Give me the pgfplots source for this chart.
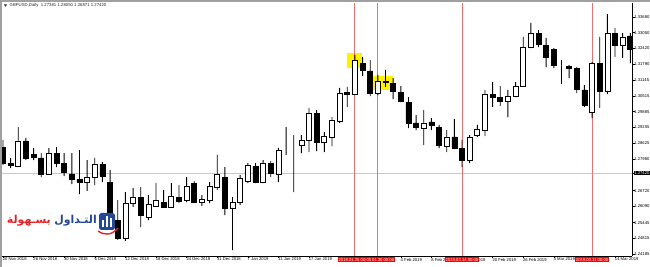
\documentclass[border=0pt]{standalone}
\usepackage{pgfplots}
\pgfplotsset{compat=1.18}
\usepackage{pgfplotstable}
\usepackage{fontspec}
\setmainfont{Liberation Sans}
\newfontfamily\arabicfont[Script=Arabic]{DejaVu Sans}
\TeXXeTstate=1
\definecolor{vline}{RGB}{240,110,110}
\definecolor{logoblue}{RGB}{36,72,150}
\definecolor{logored}{RGB}{226,35,40}
\definecolor{priceline}{RGB}{200,200,200}
\definecolor{framegray}{RGB}{160,160,160}

\pgfplotstableread{
i o h l c
0 1.28472 1.28753 1.27751 1.27831
1 1.27831 1.28032 1.27631 1.27751
2 1.27711 1.29273 1.27671 1.28713
3 1.28713 1.28833 1.27951 1.28032
4 1.28192 1.28432 1.27951 1.28072
5 1.28032 1.28232 1.27270 1.27391
6 1.27391 1.28432 1.27351 1.28232
7 1.28232 1.28472 1.27671 1.27831
8 1.27831 1.28232 1.27310 1.27471
9 1.27391 1.28232 1.26990 1.27190
10 1.27190 1.28352 1.26589 1.27070
11 1.27070 1.27951 1.26710 1.27270
12 1.27270 1.28032 1.26950 1.27791
13 1.27791 1.27871 1.27070 1.27310
14 1.27070 1.27551 1.25548 1.25668
15 1.25548 1.26349 1.24747 1.24827
16 1.24827 1.26669 1.24707 1.26229
17 1.26229 1.26830 1.26069 1.26469
18 1.26469 1.26870 1.25267 1.25748
19 1.25668 1.26549 1.25548 1.26189
20 1.26109 1.27030 1.26069 1.26349
21 1.26269 1.26750 1.26029 1.26069
22 1.26069 1.27030 1.26029 1.26509
23 1.26469 1.26950 1.26229 1.26309
24 1.26349 1.27270 1.26269 1.26910
25 1.27030 1.27110 1.26229 1.26269
26 1.26269 1.26549 1.26109 1.26389
27 1.26349 1.27070 1.26229 1.26910
28 1.26870 1.28152 1.26750 1.27391
29 1.27270 1.27671 1.25748 1.26029
30 1.26029 1.26469 1.24346 1.26269
31 1.26269 1.27351 1.26149 1.27230
32 1.27110 1.27831 1.27030 1.27751
33 1.27711 1.27831 1.27030 1.27070
34 1.27070 1.27951 1.27030 1.27831
35 1.27831 1.27911 1.27270 1.27431
36 1.27391 1.28432 1.27070 1.28352
37 1.28552 1.29273 1.28152 1.28552
38 1.28592 1.28953 1.26669 1.28592
39 1.28552 1.28953 1.28232 1.28753
40 1.28753 1.30035 1.28272 1.29834
41 1.29834 1.29954 1.28312 1.28672
42 1.28672 1.29073 1.28272 1.28913
43 1.28873 1.29674 1.28512 1.29554
44 1.29514 1.30836 1.29434 1.30635
45 1.30655 1.30876 1.30075 1.30595
46 1.30595 1.32158 1.30555 1.31957
47 1.31837 1.32078 1.31316 1.31557
48 1.31517 1.31957 1.30515 1.30635
49 1.30635 1.31357 1.30555 1.31116
50 1.31116 1.31557 1.30876 1.31076
51 1.31036 1.31236 1.30395 1.30716
52 1.30675 1.30916 1.30275 1.30315
53 1.30275 1.30475 1.29233 1.29434
54 1.29434 1.29754 1.29153 1.29273
55 1.29233 1.29954 1.28552 1.29434
56 1.29474 1.29634 1.29153 1.29354
57 1.29273 1.29354 1.28432 1.28552
58 1.28512 1.29153 1.28272 1.28873
59 1.28873 1.29594 1.28392 1.28432
60 1.28432 1.28753 1.27671 1.27951
61 1.27951 1.28953 1.27831 1.28873
62 1.28953 1.29354 1.28873 1.29193
63 1.29153 1.30756 1.28913 1.30595
64 1.30595 1.31076 1.30075 1.30475
65 1.30475 1.30916 1.30115 1.30315
66 1.30315 1.30756 1.29674 1.30515
67 1.30515 1.31076 1.30475 1.30916
68 1.30916 1.32879 1.30876 1.32478
69 1.32478 1.33440 1.32438 1.33039
70 1.33039 1.33159 1.32478 1.32598
71 1.32558 1.32839 1.31677 1.32078
72 1.32398 1.32438 1.31637 1.31757
73 1.31737 1.31957 1.30996 1.31737
74 1.31717 1.31757 1.31236 1.31637
75 1.31637 1.31677 1.30635 1.30796
76 1.30756 1.30956 1.30075 1.30155
77 1.29874 1.31877 1.29634 1.31837
78 1.31837 1.32879 1.30035 1.30716
79 1.30716 1.33800 1.30595 1.33039
80 1.33039 1.33239 1.32078 1.32558
81 1.32558 1.33039 1.32038 1.32879
82 1.32919 1.33039 1.31837 1.32398
}\candles

\pgfplotsset{
  commonaxis/.style={
    at={(2bp,11bp)}, anchor=south west,
    width=630bp, height=253bp, scale only axis,
    xmin=-0.13, xmax=82.22, ymin=1.24106, ymax=1.34241,
  }
}

\begin{document}
\begin{tikzpicture}
\useasboundingbox (0,0) rectangle (650bp,267bp);
% chart window frame
\fill[framegray] (0,0) rectangle (1.6bp,267bp);
\fill[framegray] (0,265.4bp) rectangle (650bp,267bp);

% background layer: highlights, vertical lines, price line
\begin{axis}[commonaxis, hide axis]
  \addplot[fill=yellow, draw=none] coordinates {(44.97,1.31637) (46.93,1.31637) (46.93,1.32238) (44.97,1.32238)} -- cycle;
  \addplot[fill=yellow, draw=none] coordinates {(48.37,1.30756) (50.98,1.30756) (50.98,1.31316) (48.37,1.31316)} -- cycle;
  \addplot[priceline, line width=0.6bp] coordinates {(-0.13,1.27420) (82.22,1.27420)};
  \addplot[vline, line width=1bp] coordinates {(46,1.24106) (46,1.34241)};
  \addplot[vline, line width=1bp] coordinates {(49,1.24106) (49,1.34241)};
  \addplot[vline, line width=1bp] coordinates {(60,1.24106) (60,1.34241)};
  \addplot[vline, line width=1bp] coordinates {(77,1.24106) (77,1.34241)};
\end{axis}

% candles
\begin{axis}[commonaxis,
  ybar stacked, bar width=5bp,
  axis x line=bottom, axis y line=right,
  axis line style={-, black, line width=0.6bp},
  tick align=outside, major tick length=2.5bp,
  tick style={black, line width=0.5bp},
  clip mode=individual,
  xtick={0,4,...,80},
  xticklabels={20 Nov 2018,26 Nov 2018,30 Nov 2018,6 Dec 2018,12 Dec 2018,18 Dec 2018,24 Dec 2018,31 Dec 2018,7 Jan 2019,11 Jan 2019,17 Jan 2019,,,4 Feb 2019,8 Feb 2019,14 Feb 2019,20 Feb 2019,26 Feb 2019,4 Mar 2019,,14 Mar 2019},
  xticklabel style={anchor=north west, xshift=-0.8bp, yshift=1.2bp, inner sep=0.5bp, font=\fontsize{4.2}{5}\selectfont},
  ytick={1.33680,1.33050,1.32420,1.31790,1.31145,1.30515,1.29885,1.29255,1.28625,1.27980,1.26720,1.26090,1.25445,1.24815,1.24185},
  scaled y ticks=false,
  yticklabel style={anchor=west, xshift=-1bp, inner sep=0.6bp, font=\fontsize{4.2}{5}\selectfont,
    /pgf/number format/fixed, /pgf/number format/fixed zerofill, /pgf/number format/precision=5, /pgf/number format/assume math mode=true},
  extra y ticks={1.27420},
  extra y tick labels={1.27420},
  extra y tick style={yticklabel style={fill=black, text=white}},
]
  \addplot[draw=none, fill=none] table[x=i, y=l] {\candles};
  \addplot[fill=black, draw=none, bar width=0.9bp] table[x=i, y expr={min(\thisrow{o},\thisrow{c})-\thisrow{l}}] {\candles};
  \addplot[fill=white, draw=black, line width=0.7bp] table[x=i, y expr={max(\thisrow{c}-\thisrow{o},0)}] {\candles};
  \addplot[fill=black, draw=black, line width=0.7bp] table[x=i, y expr={max(\thisrow{o}-\thisrow{c},0)}] {\candles};
  \addplot[fill=black, draw=none, bar width=0.9bp] table[x=i, y expr={\thisrow{h}-max(\thisrow{o},\thisrow{c})}] {\candles};
  \coordinate (d46) at (axis cs:46,1.24106);
  \coordinate (d49) at (axis cs:49,1.24106);
  \coordinate (d60) at (axis cs:60,1.24106);
  \coordinate (d77) at (axis cs:77,1.24106);
\end{axis}

% date labels of the vertical lines
\tikzset{datelab/.style={anchor=north, fill=red, text=white, inner sep=0.9bp, font=\fontsize{4.2}{5}\selectfont}}
\node[datelab] at ([yshift=-1bp]d49) {2019.01.30 00:00};
\node[datelab] at ([yshift=-1bp]d46) {2019.01.25 00:00};
\node[datelab] at ([yshift=-1bp]d60) {2019.02.14 00:00};
\node[datelab] at ([yshift=-1bp]d77) {2019.03.11 00:00};

% title
\fill[black!80] (3.8bp,262.6bp) -- (7.2bp,262.6bp) -- (5.5bp,260.2bp) -- cycle;
\node[anchor=west, inner sep=0pt, font=\fontsize{4.3}{5}\selectfont, text=black!85] at (9.5bp,261.3bp) {GBPUSD,Daily\ \ 1.27381 1.28050 1.26871 1.27420};

% logo
\node[anchor=east, inner sep=0pt, text=logoblue, font=\arabicfont\bfseries\fontsize{11}{13}\selectfont] at (97bp,46bp) {\beginR التـداول\endR};
\node[anchor=east, inner sep=0pt, text=logored, font=\arabicfont\bfseries\fontsize{11}{13}\selectfont] at (51bp,46bp) {\beginR بسـهولة\endR};
\fill[logoblue, rounded corners=2.5bp] (99bp,37bp) rectangle (115bp,54bp);
\fill[white] (101.5bp,40bp) rectangle (103.8bp,47bp);
\fill[white] (105.6bp,40bp) rectangle (107.9bp,51bp);
\fill[white] (109.7bp,40bp) rectangle (112bp,49bp);
\draw[logored, line width=1.4bp] (98bp,36bp) .. controls (105bp,31bp) and (112bp,32bp) .. (118bp,39bp);
\end{tikzpicture}
\end{document}
